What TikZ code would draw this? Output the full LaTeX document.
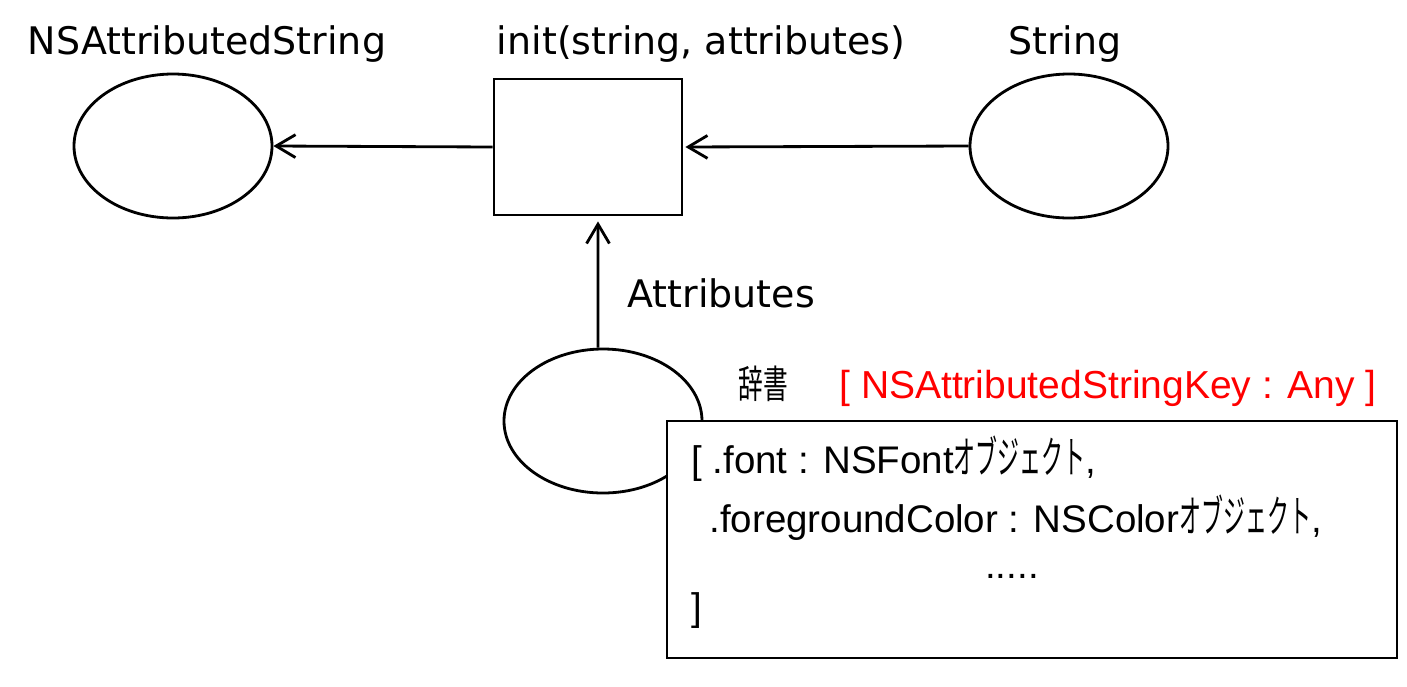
\documentclass[tikz,border=0pt]{standalone}
\usepackage{fontspec}
\setmainfont{DejaVu Sans}
\newfontfamily\boxfont{Liberation Sans}
\newfontfamily\jpfont[FakeStretch=0.5]{Noto Sans CJK JP}
\newfontfamily\jpwide[FakeStretch=0.64]{Noto Sans CJK JP}
\usepackage{xcolor}
\usetikzlibrary{arrows.meta, positioning, shapes.geometric}
\newcommand{\kata}[1]{{\jpfont\fontsize{25pt}{26pt}\selectfont #1}}

\begin{document}
\begin{tikzpicture}[x=0.2mm, y=-0.2mm, line width=1.6pt,
  obj/.style={ellipse, draw, minimum width=39.6mm, minimum height=28.8mm, inner sep=0pt},
  func/.style={rectangle, draw, minimum width=37.6mm, minimum height=27.2mm, inner sep=0pt},
  heading/.style={font=\fontsize{21.6pt}{26pt}\selectfont, inner sep=0pt},
  dictline/.style={font=\boxfont\fontsize{21.9pt}{26pt}\selectfont, inner sep=0pt, anchor=base west},
  flow/.style={-{Straight Barb[length=11pt, width=13pt]}}]
  \useasboundingbox (0,0) rectangle (1407,686);

  % Objects and initializer
  \node[obj] (nsas) at (173,146) {};
  \node[func] (init) at (588,147) {};
  \node[obj] (str) at (1069,146) {};
  \node[obj] (attr) at (603,421) {};

  % Headings
  \node[heading, anchor=base] at (207,54) {NSAttributedString};
  \node[heading, anchor=base] at (701,54) {init(string, attributes)};
  \node[heading, anchor=base] at (1065,54) {String};
  \node[heading, anchor=base west] at (626,307) {Attributes};

  % Connectors
  \draw[flow] (init.west) -- (nsas.east);
  \draw[flow, shorten >=0.4mm] (str.west) -- (init.east);
  \draw[flow, shorten >=1mm] ([xshift=-1mm]attr.north) -- ([xshift=2mm]init.south);

  % Dictionary type
  \node[inner sep=0pt, anchor=base west, font=\jpwide\fontsize{22pt}{24pt}\selectfont] at (737,398) {辞書};
  \node[dictline, text=red, font=\boxfont\fontsize{22.2pt}{26pt}\selectfont] at (838,398)
        {[ NSAttributedStringKey : Any ]};

  % Dictionary contents
  \node[rectangle, draw, fill=white, minimum width=146mm, minimum height=47.4mm] (dict) at (1032,539.5) {};
  \node[dictline] at (690,473) {[ .font : NSFont\kata{オブジェクト},};
  \node[dictline] at (708,532) {.foregroundColor : NSColor\kata{オブジェクト},};
  \node[dictline, anchor=base] at (1012,578) {.....};
  \node[dictline] at (690,620) {]};
\end{tikzpicture}
\end{document}
